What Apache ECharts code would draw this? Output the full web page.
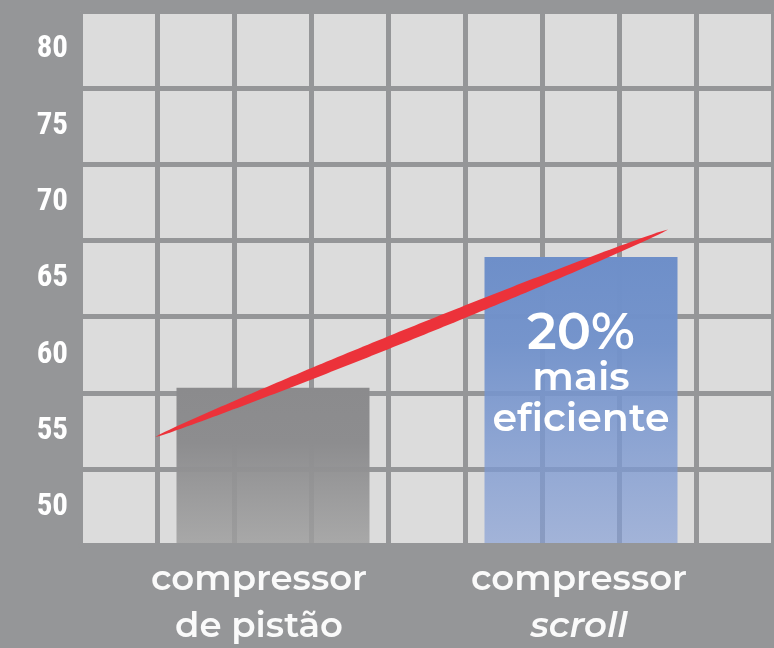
<!DOCTYPE html>
<html>
<head>
<meta charset="utf-8">
<script src="https://cdn.jsdelivr.net/npm/echarts@6/dist/echarts.min.js"></script>
<style>
  html, body { margin: 0; padding: 0; background: #959698; }
  #chart { width: 774px; height: 648px; }
</style>
</head>
<body>
<div id="chart"></div>
<script>
// ---- data ----
// nine grid columns; the two bars sit in columns 3 and 7
const columns = ['', '', 'compressor\nde pistão', '', '', '', 'compressor\nscroll', '', ''];
const barValues = [null, null, 57.84, null, null, null, 66.41, null, null];
const yTickLabels = [50, 55, 60, 65, 70, 75, 80];
const calloutLines = ['20%', 'mais', 'eficiente'];
// red trend swoosh: start and end points [column units, value]
const trendStart = [0.97, 54.61];
const trendEnd = [7.63, 68.21];

const BG = '#959698';
const LABEL_FONT = 'Montserrat';

const chart = echarts.init(document.getElementById('chart'), null, { renderer: 'canvas' });

const barData = barValues.map(function (v, i) {
  if (v == null) return null;
  const grey = i === 2;
  const item = {
    value: v,
    itemStyle: {
      color: new echarts.graphic.LinearGradient(0, 0, 0, 1, grey ? [
        { offset: 0, color: 'rgba(139,139,141,1)' },
        { offset: 0.35, color: 'rgba(141,141,143,1)' },
        { offset: 1, color: 'rgba(158,158,158,0.83)' }
      ] : [
        { offset: 0, color: 'rgba(110,143,201,1)' },
        { offset: 0.3, color: 'rgba(114,146,203,0.97)' },
        { offset: 1, color: 'rgba(132,158,214,0.65)' }
      ])
    }
  };
  if (!grey) {
    item.label = {
      show: true,
      position: 'insideTop',
      distance: 53,
      formatter: '{a|' + calloutLines[0] + '}\n{b|' + calloutLines[1] + '}\n{b|' + calloutLines[2] + '}',
      rich: {
        a: { fontFamily: LABEL_FONT, fontWeight: 600, fontSize: 51, lineHeight: 48, color: '#ffffff', align: 'center' },
        b: { fontFamily: LABEL_FONT, fontWeight: 600, fontSize: 39.5, lineHeight: 41, color: '#ffffff', align: 'center' }
      }
    };
  }
  return item;
});

const option = {
  backgroundColor: BG,
  animation: false,
  grid: {
    left: 80.5, top: 11.5, width: 693, height: 534,
    show: true, backgroundColor: '#dcdcdc', borderWidth: 0,
    containLabel: false
  },
  xAxis: [
    {
      type: 'value', min: 0, max: 9, interval: 1,
      axisLine: { show: false }, axisTick: { show: false }, axisLabel: { show: false },
      splitLine: { show: true, showMinLine: true, showMaxLine: true, lineStyle: { color: BG, width: 5 } }
    },
    {
      type: 'category', data: columns, boundaryGap: true, position: 'bottom', z: 5,
      axisLine: { show: true, lineStyle: { color: BG, width: 5 } },
      axisTick: { show: false },
      splitLine: { show: false },
      axisLabel: {
        interval: 0, margin: 11,
        formatter: function (v, idx) {
          if (!v) return '';
          const parts = v.split('\n');
          if (idx === 2) return '{a|' + parts[0] + '}\n{a|' + parts[1] + '}';
          return '{b|' + parts[0] + '}\n{i|' + parts[1] + '}';
        },
        rich: {
          a: { fontFamily: LABEL_FONT, fontWeight: 600, fontSize: 35.5, lineHeight: 47, color: '#fafafa', padding: [0, 28, 0, 0] },
          b: { fontFamily: LABEL_FONT, fontWeight: 600, fontSize: 35.5, lineHeight: 47, color: '#fafafa', padding: [0, 4, 0, 0] },
          i: { fontFamily: LABEL_FONT, fontWeight: 600, fontStyle: 'italic', fontSize: 35.5, lineHeight: 47, color: '#fafafa', padding: [0, 4, 0, 0] }
        }
      }
    }
  ],
  yAxis: [
    {
      type: 'value', min: 47.5, max: 82.5, interval: 5,
      axisLine: { show: false }, axisTick: { show: false }, axisLabel: { show: false },
      splitLine: { show: true, showMinLine: true, showMaxLine: true, lineStyle: { color: BG, width: 5 } }
    },
    {
      type: 'value', min: 47.5, max: 82.5, interval: 2.5, position: 'left',
      axisLine: { show: false }, axisTick: { show: false }, splitLine: { show: false },
      axisLabel: {
        margin: 12.5,
        color: '#ffffff',
        fontFamily: "'Roboto Condensed', sans-serif",
        fontWeight: 'bold',
        fontSize: 31,
        formatter: function (v) {
          return yTickLabels.indexOf(Math.round(v * 10) / 10) >= 0 ? String(Math.round(v)) : '';
        }
      }
    }
  ],
  series: [
    {
      type: 'bar',
      xAxisIndex: 1, yAxisIndex: 0,
      barWidth: 193,
      data: barData,
      z: 2
    },
    {
      type: 'custom',
      xAxisIndex: 0, yAxisIndex: 0,
      z: 4,
      encode: { x: [0, 2], y: [1, 3] },
      data: [[trendStart[0], trendStart[1], trendEnd[0], trendEnd[1]]],
      renderItem: function (params, api) {
        const p1 = api.coord([api.value(0), api.value(1)]);
        const p2 = api.coord([api.value(2), api.value(3)]);
        const dx = p2[0] - p1[0], dy = p2[1] - p1[1];
        const L = Math.sqrt(dx * dx + dy * dy);
        const nx = -dy / L, ny = dx / L;
        const N = 100, H = 6;
        const upper = [], lower = [];
        for (let k = 0; k <= N; k++) {
          const s = k / N;
          const h = H * Math.pow(Math.sin(Math.PI * s), 0.6);
          const x = p1[0] + dx * s, y = p1[1] + dy * s;
          upper.push([x + nx * h, y + ny * h]);
          lower.push([x - nx * h, y - ny * h]);
        }
        return {
          type: 'polygon',
          shape: { points: upper.concat(lower.reverse()) },
          style: { fill: '#ec323a' }
        };
      }
    }
  ]
};

chart.setOption(option);
</script>
</body>
</html>
